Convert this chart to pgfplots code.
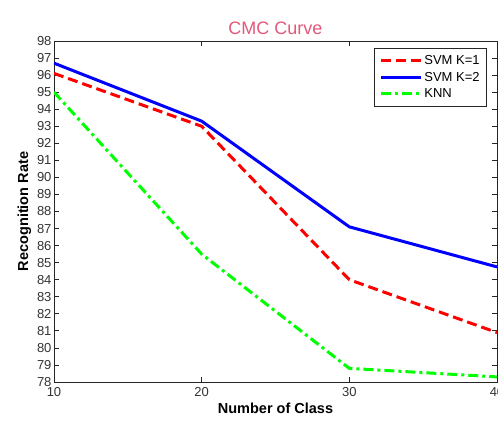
\documentclass[border=0pt]{standalone}
\usepackage{fontspec}
\setmainfont{Liberation Sans}
\usepackage{pgfplots}
\pgfplotsset{compat=1.18}
\definecolor{titlepink}{RGB}{226,88,122}
\definecolor{axgray}{RGB}{38,38,38}
\definecolor{lblgray}{RGB}{51,51,51}
\begin{document}
\begin{tikzpicture}
\begin{axis}[
  name=ax,
  scale only axis,
  width=443bp, height=341bp,
  xmin=10, xmax=40, ymin=78, ymax=98,
  xtick={10,20,30,40},
  ytick={78,79,...,98},
  tick align=inside,
  ticks=both,
  xtick pos=both, ytick pos=both,
  major tick length=5bp,
  axis line style={axgray, line width=0.8bp},
  tick style={axgray, line width=0.8bp},
  /pgf/number format/assume math mode=true,
  ticklabel style={font=\fontsize{13bp}{14bp}\selectfont, text=lblgray},
  xticklabel style={yshift=-2bp},
  yticklabel style={xshift=1bp},
  xlabel={\textbf{Number of Class}},
  ylabel={\textbf{Recognition Rate}},
  label style={font=\fontsize{14.5bp}{16bp}\selectfont},
  xlabel style={yshift=1bp},
  ylabel style={yshift=-1bp},
  title={CMC Curve},
  title style={font=\fontsize{18bp}{20bp}\selectfont, text=titlepink, yshift=-3bp},
  legend style={at={(1,1)}, anchor=north east, xshift=-10bp, yshift=-7bp,
    font=\fontsize{13bp}{15bp}\selectfont, draw=axgray, line width=0.8bp,
    inner xsep=5bp, inner ysep=5bp, row sep=2bp},
  legend cell align=left,
  legend image code/.code={\draw[#1, line width=3bp] (0bp,0bp) -- (40bp,0bp);},
]
\addplot[red, line width=3bp, dash pattern=on 10bp off 5bp] coordinates {(10,96.1) (20,93.0) (30,84.0) (40,80.9)};
\addlegendentry{SVM K=1}
\addplot[blue, line width=3bp] coordinates {(10,96.7) (20,93.3) (30,87.1) (40,84.75)};
\addlegendentry{SVM K=2}
\addplot[green, line width=3bp, dash pattern=on 10bp off 4bp on 3bp off 4bp] coordinates {(10,95.0) (20,85.5) (30,78.8) (40,78.3)};
\addlegendentry{KNN}
\end{axis}
\pgfresetboundingbox
\useasboundingbox ([xshift=-54bp,yshift=-41bp]ax.south west) rectangle ([xshift=1bp,yshift=41bp]ax.north east);
\end{tikzpicture}
\end{document}
